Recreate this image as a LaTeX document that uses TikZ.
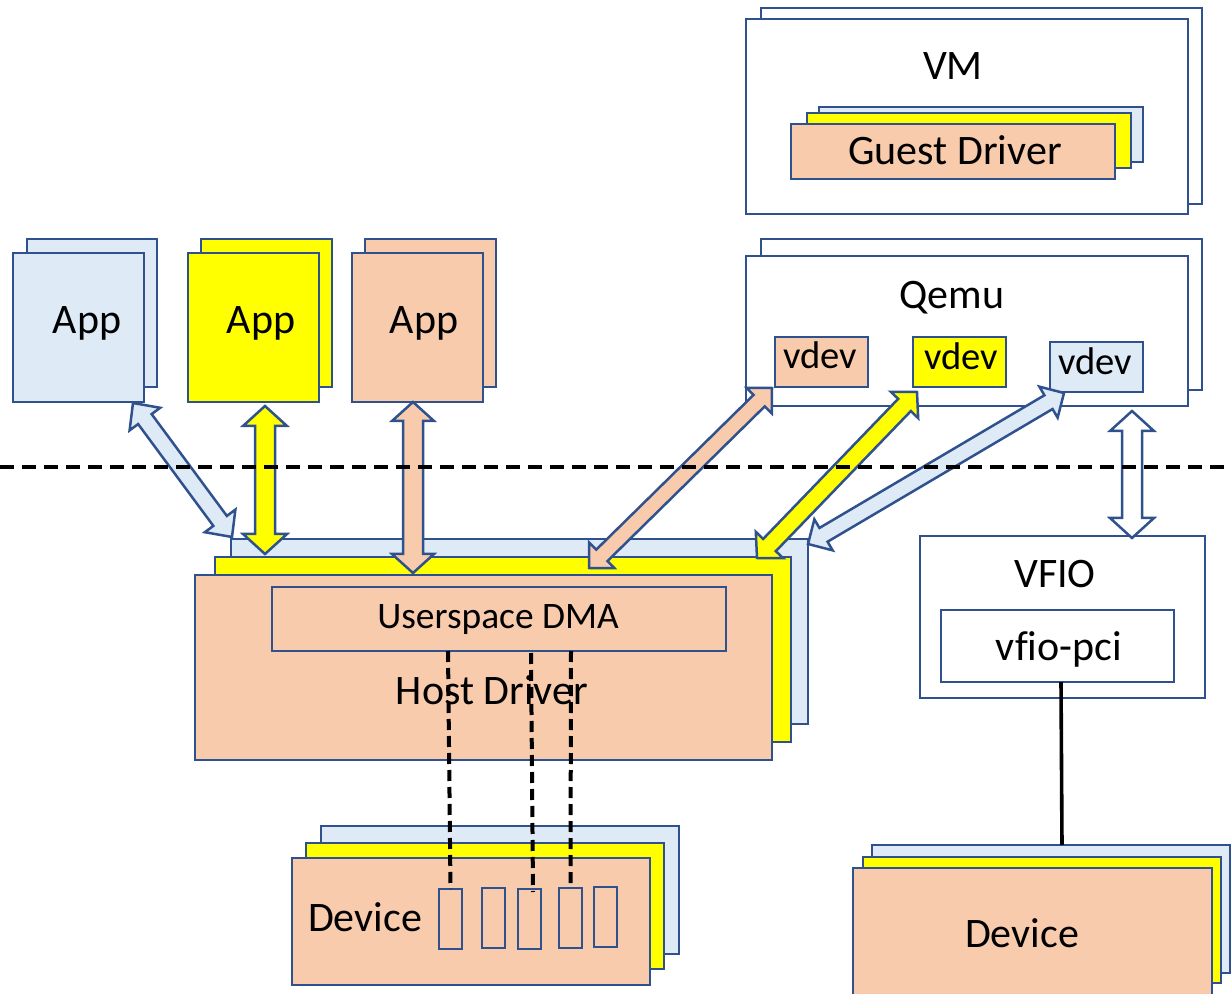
\documentclass[tikz,border=0pt]{standalone}
\usepackage{fontspec}
\setmainfont{Carlito}[Ligatures=NoCommon]
\usetikzlibrary{calc,fit}
\definecolor{bdr}{HTML}{2F528F}
\definecolor{peach}{HTML}{F8CBAD}
\definecolor{lblue}{HTML}{DEEBF7}
\definecolor{yel}{HTML}{FFFF00}
\tikzset{
  box/.style={draw=bdr, line width=1.25pt, inner sep=0pt, outer sep=0pt},
  pbox/.style={box, fill=peach},
  bbox/.style={box, fill=lblue},
  ybox/.style={box, fill=yel},
  wbox/.style={box, fill=white},
  lbl/.style={font=\fontsize{21}{25}\selectfont, inner sep=0pt, anchor=base},
  slbl/.style={font=\fontsize{18.7}{22}\selectfont, inner sep=0pt, anchor=base},
  vlbl/.style={font=\fontsize{19.3}{22}\selectfont, inner sep=0pt, anchor=base},
  farrow/.style={draw=bdr, line width=1.25pt, line join=miter},
  sepline/.style={line width=2pt, dash pattern=on 7pt off 4pt},
  link/.style={line width=2pt, dash pattern=on 5.5pt off 3pt},
  conn/.style={line width=1.8pt},
}
\newcommand\rbox[3]{\node[#1, fit={#3}] (#2) {};}
\newcommand\fatarrow[6]{%
  \filldraw[farrow, fill=#1] (#2)
   -- ($(#2)!#4!(#3)!#5!90:(#3)$) -- ($(#2)!#4!(#3)!#6!90:(#3)$)
   -- ($(#3)!#4!(#2)!#6!-90:(#2)$) -- ($(#3)!#4!(#2)!#5!-90:(#2)$)
   -- (#3)
   -- ($(#3)!#4!(#2)!#5!90:(#2)$) -- ($(#3)!#4!(#2)!#6!90:(#2)$)
   -- ($(#2)!#4!(#3)!#6!-90:(#3)$) -- ($(#2)!#4!(#3)!#5!-90:(#3)$)
   -- cycle;}
\begin{document}
\begin{tikzpicture}[x=0.5pt,y=-0.5pt]
\useasboundingbox (0,0) rectangle (1232,994);

% VM
\rbox{wbox}{vmback}{(761,8) (1202,204)}
\rbox{wbox}{vm}{(746,19) (1188,214)}
\rbox{bbox}{gd3}{(819,107) (1143,162)}
\rbox{ybox}{gd2}{(807,113) (1131,168)}
\rbox{pbox}{gd}{(791,124) (1115,179)}
\node[lbl] (vmt) at (953,80) {VM};
\node[lbl] (gdt) at (955,165) {Guest Driver};

% Qemu
\rbox{wbox}{qback}{(761,239) (1202,390)}
\rbox{wbox}{qemu}{(746,256) (1188,406)}
\rbox{pbox}{vd1}{(775,337) (868,387)}
\rbox{ybox}{vd2}{(913,337) (1006,387)}
\rbox{bbox}{vd3}{(1050,342) (1143,392)}
\node[lbl] (qt) at (952,309) {Qemu};
\node[vlbl] (vd1t) at (820,369) {vdev};
\node[vlbl] (vd2t) at (961,370) {vdev};
\node[vlbl] (vd3t) at (1095,375) {vdev};

% Apps
\rbox{bbox}{app1b}{(27,239) (157,387)}
\rbox{bbox}{app1}{(13,253) (144,402)}
\rbox{ybox}{app2b}{(201,239) (332,387)}
\rbox{ybox}{app2}{(188,253) (319,402)}
\rbox{pbox}{app3b}{(365,239) (496,387)}
\rbox{pbox}{app3}{(352,253) (483,402)}
\node[lbl] (a1t) at (87,334) {App};
\node[lbl] (a2t) at (261,334) {App};
\node[lbl] (a3t) at (424,334) {App};

% Host driver
\rbox{bbox}{hd3}{(231,539) (808,724)}
\rbox{ybox}{hd2}{(215,557) (791,742)}
\rbox{pbox}{hd}{(195,575) (772,760)}
\rbox{pbox}{dma}{(272,587) (726,651)}
\node[slbl] (dmat) at (498,628) {Userspace DMA};
\node[lbl] (hdt) at (492,704) {Host Driver};

% Left device
\rbox{bbox}{dl3}{(321,826) (679,954)}
\rbox{ybox}{dl2}{(306,843) (664,969)}
\rbox{pbox}{dl}{(292,858) (650,985)}
\node[lbl] (dlt) at (365,931) {Device};
\rbox{pbox}{s1}{(439,889) (462,949)}
\rbox{pbox}{s2}{(482,888) (505,948)}
\rbox{pbox}{s3}{(518,889) (541,949)}
\rbox{pbox}{s4}{(559,888) (582,948)}
\rbox{pbox}{s5}{(594,887) (617,947)}

% VFIO
\rbox{wbox}{vfio}{(920,536) (1205,698)}
\rbox{wbox}{vpci}{(941,610) (1174,682)}
\node[lbl] (vfiot) at (1055,588) {VFIO};
\node[lbl] (vpcit) at (1059,660) {vfio-pci};

% Right device
\rbox{bbox}{dr3}{(872,845) (1230,973)}
\rbox{ybox}{dr2}{(863,857) (1221,983)}
\rbox{pbox}{dr}{(853,868) (1212,1004)}
\node[lbl] (drt) at (1022,947) {Device};

% arrow end points
\coordinate (aA1) at (133,403);
\coordinate (aA2) at (232,537);
\coordinate (aB1) at (265,406);
\coordinate (aB2) at (265,554);
\coordinate (aC1) at (413,402);
\coordinate (aC2) at (413,573);
\coordinate (aD1) at (772,388);
\coordinate (aD2) at (589,568);
\coordinate (aE1) at (917,392);
\coordinate (aE2) at (757,558);
\coordinate (aF1) at (1064,393);
\coordinate (aF2) at (808,544);
\coordinate (aG1) at (1132,411);
\coordinate (aG2) at (1132,538);

\fatarrow{lblue}{aA1}{aA2}{10pt}{9.5pt}{4.2pt}
\fatarrow{yel}{aB1}{aB2}{10pt}{11pt}{5pt}
\fatarrow{peach}{aC1}{aC2}{9.5pt}{10.5pt}{5pt}
\fatarrow{peach}{aD1}{aD2}{9pt}{9pt}{4pt}
\fatarrow{yel}{aE1}{aE2}{9pt}{9.5pt}{4.4pt}
\fatarrow{lblue}{aF1}{aF2}{9pt}{9pt}{4pt}
\fatarrow{white}{aG1}{aG2}{10pt}{11pt}{5pt}

% separator line
\coordinate (sepL) at (0,467);
\coordinate (sepR) at (1232,467);
\draw[sepline] (sepL) -- (sepR);

% DMA links
\coordinate (d1) at (448,651);
\coordinate (d2) at (531,653);
\coordinate (e2) at (533,892);
\coordinate (d3) at (571,651);
\draw[link] (d1) -- (s1.north);
\draw[link] (d2) -- (e2);
\draw[link] (d3) -- (s4.north);

% vfio-pci to device
\coordinate (v1) at (1061,682);
\coordinate (v2) at (1062,845);
\draw[conn] (v1) -- (v2);
\end{tikzpicture}
\end{document}
